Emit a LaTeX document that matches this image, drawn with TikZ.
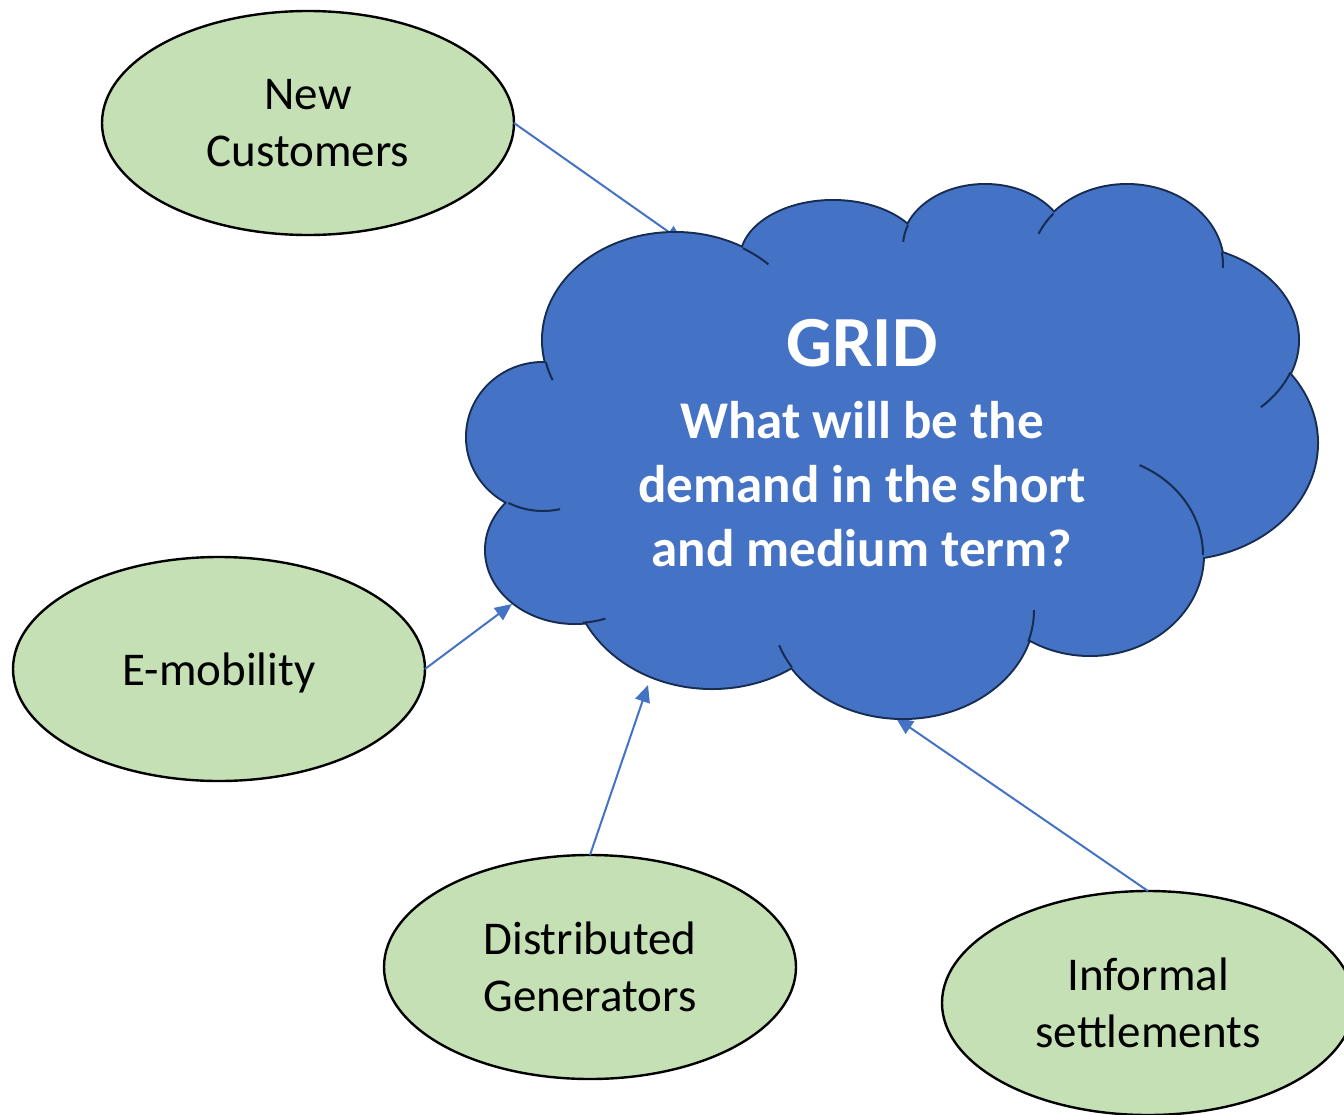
\documentclass[tikz,border=0pt]{standalone}
\usepackage{fontspec}
\setmainfont{Carlito}
\usetikzlibrary{arrows.meta,shapes.geometric}

\definecolor{leaf}{HTML}{C5E0B4}
\definecolor{sky}{HTML}{4472C4}
\definecolor{navy}{HTML}{172C51}

% the lobes that make up the cloud: centre, x radius, y radius
\newcommand\cloudlobes{%
  (675,340) ellipse [x radius=132, y radius=107]
  (833,259) ellipse [x radius=92, y radius=58]
  (985,246) ellipse [x radius=82, y radius=61]
  (1127,265) ellipse [x radius=96, y radius=80]
  (1171,340) ellipse [x radius=127, y radius=95]
  (1177,443) ellipse [x radius=140, y radius=116]
  (1090,555) ellipse [x radius=113, y radius=100]
  (903,610) ellipse [x radius=131, y radius=108]
  (712,570) ellipse [x radius=140, y radius=118]
  (575,550) ellipse [x radius=89, y radius=73]
  (543,437) ellipse [x radius=76, y radius=74]}

% short inner arc of one lobe: centre, rx, ry, start angle, end angle
\newcommand\lobearc[5]{%
  \draw[cloudline] (#1) ++(#4:#2 and #3)
    arc[start angle=#4, end angle=#5, x radius=#2, y radius=#3];}

\begin{document}
\begin{tikzpicture}[x=0.5pt, y=-0.5pt,
  topic/.style={shape=ellipse, draw=black, line width=1.2pt, fill=leaf,
    minimum width=206pt, minimum height=112pt, inner sep=0pt, outer sep=0pt,
    align=center, font=\fontsize{23.5}{28.5}\selectfont},
  link/.style={draw=sky, line width=1pt, -{Triangle[length=8.5pt, width=7.5pt]}},
  cloudline/.style={draw=navy, line width=1pt},
  gridtitle/.style={text=white, font=\fontsize{36}{40}\selectfont\bfseries, inner sep=0pt},
  gridtext/.style={text=white, align=center, inner sep=0pt,
    font=\fontsize{26.5}{32}\selectfont\bfseries}]

\useasboundingbox (0,0) rectangle (1344,1114);
\clip (0,0) rectangle (1344,1114);

% surrounding topics
\node[topic] (nc)  at (308,123)  {New\\Customers};
\node[topic, text depth=0pt] (em) at (219,669) {E-mobility};
\node[topic] (dg)  at (590,967)  {Distributed\\Generators};
\node[topic] (inf) at (1148,1003) {Informal\\settlements};

% arrow tips on the cloud
\coordinate (tipnc)  at (683,242);
\coordinate (tipem)  at (512,604);
\coordinate (tipdg)  at (648,685);
\coordinate (tipinf) at (896,718);

\draw[link] (nc.east)  -- (tipnc);
\draw[link] (em.east)  -- (tipem);
\draw[link] (dg.north) -- (tipdg);
\draw[link] (inf.north) -- (tipinf);

% cloud: outline first, then the fill hides the inner halves
\path[draw=navy, line width=2pt] \cloudlobes;
\path[fill=sky] \cloudlobes (880,440) ellipse [x radius=300, y radius=180];

% inner arcs of the lobes
\lobearc{675,340}{132}{107}{-59}{-45}
\lobearc{675,340}{132}{107}{168}{158}
\lobearc{985,246}{82}{61}{200}{184}
\lobearc{1127,265}{96}{80}{220}{203}
\lobearc{1127,265}{96}{80}{-9}{2}
\lobearc{1171,340}{127}{95}{20}{45}
\lobearc{1090,555}{113}{100}{-64}{0}
\lobearc{903,610}{131}{108}{17}{0}
\lobearc{903,610}{131}{108}{148}{161}
\lobearc{575,550}{89}{73}{85}{70}
\lobearc{543,437}{76}{74}{117}{77}

% cloud text
\node[gridtitle, anchor=base] (grid) at (862,366) {GRID};
\node[gridtext] (question) at (862,484) {What will be the\\demand in the short\\and medium term?};
\end{tikzpicture}
\end{document}
